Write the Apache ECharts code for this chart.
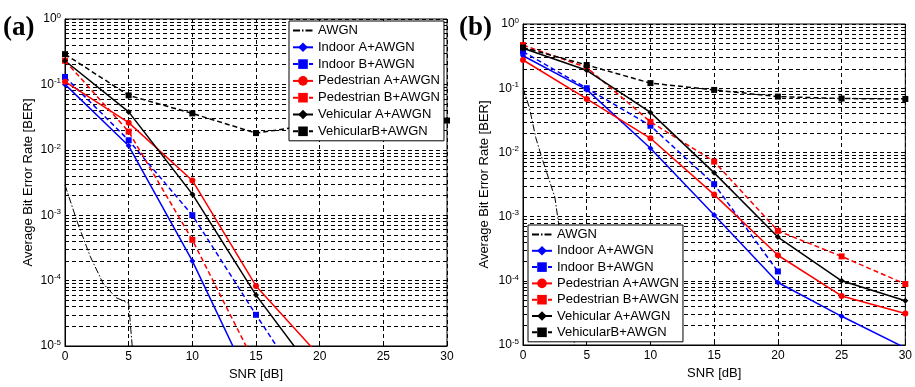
<!DOCTYPE html>
<html><head><meta charset="utf-8">
<script src="https://cdn.jsdelivr.net/npm/echarts@6/dist/echarts.min.js"></script>
<style>html,body{margin:0;padding:0;background:#fff}#c{width:915px;height:387px}</style>
</head><body><div id="c"></div>
<script>
// ---------- data ----------
const seriesNames = ['AWGN','Indoor A+AWGN','Indoor B+AWGN','Pedestrian A+AWGN','Pedestrian B+AWGN','Vehicular A+AWGN','VehicularB+AWGN'];
const snrTicks = [0,5,10,15,20,25,30];
const snrPts = [0,5,10,15,20,25,30];
const yTickExps = [0,-1,-2,-3,-4,-5];

// panel (a)
const aAwgnSnr = [0,1,2,3,4,5,5.5];
const aAwgnBer = [2.9e-3,7.5e-4,2.3e-4,9e-5,5.5e-5,4.5e-5,3e-6];
const aIndoorA = [0.10,0.0115,2.0e-4,1.8e-6];
const aIndoorB = [0.13,0.014,1.0e-3,3.0e-5,1.0e-6];
const aPedA    = [0.11,0.026,3.4e-3,8.3e-5,7e-6];
const aPedB    = [0.23,0.019,4.2e-4,5e-6];
const aVehA    = [0.23,0.038,2.1e-3,6.0e-5,3e-6];
const aVehB    = [0.29,0.068,0.036,0.018,0.025,0.027,0.028];

// panel (b)
const bAwgnSnr = [0,0.5,1,1.5,2,2.5,3,3.5,4,4.5];
const bAwgnBer = [0.1,0.05,0.017,0.008,0.004,0.002,4e-4,8e-5,1.2e-5,1e-6];
const bIndoorA = [0.32,0.095,0.0116,0.00106,9.4e-5,2.8e-5,9e-6];
const bIndoorB = [0.37,0.10,0.026,0.0032,1.4e-4];
const bPedA    = [0.275,0.068,0.0166,0.0022,2.5e-4,5.8e-5,3.1e-5];
const bPedB    = [0.47,0.21,0.030,0.0072,6.0e-4,2.4e-4,8.9e-5];
const bVehA    = [0.42,0.19,0.042,0.0048,4.8e-4,1.0e-4,4.9e-5];
const bVehB    = [0.43,0.23,0.12,0.094,0.074,0.069,0.068];

// ---------- styles ----------
const FONT = 'Liberation Sans';
const DASH = [5,3];
const styles = {
  'AWGN':              {color:'#000', type:[7,2,1.5,2], width:1, symbol:'none'},
  'Indoor A+AWGN':     {color:'#0000ff', type:'solid', width:1.5, symbol:'diamond'},
  'Indoor B+AWGN':     {color:'#0000ff', type:DASH, width:1.5, symbol:'rect'},
  'Pedestrian A+AWGN': {color:'#ff0000', type:'solid', width:1.5, symbol:'circle'},
  'Pedestrian B+AWGN': {color:'#ff0000', type:DASH, width:1.5, symbol:'rect'},
  'Vehicular A+AWGN':  {color:'#000', type:'solid', width:1.5, symbol:'diamond'},
  'VehicularB+AWGN':   {color:'#000', type:DASH, width:1.5, symbol:'rect'}
};

function pair(xs, ys){ return ys.map((v,i)=>[xs[i], v]); }

function mk(name, data, g){
  const s = styles[name];
  return {
    type:'line', name, data, xAxisIndex:g, yAxisIndex:g,
    symbol:s.symbol, symbolSize:6, showSymbol:s.symbol!=='none',
    itemStyle:{color:s.color},
    lineStyle:{color:s.color, type:s.type, width:s.width},
    z:3, clip:true, animation:false
  };
}

// decade ticks and minor log grid values (2..9 x 10^k)
const decadeVals = yTickExps.map(e=>Math.pow(10,e));
const allYVals = [];
yTickExps.forEach(e=>{
  allYVals.push(Math.pow(10,e));
  if (e > -5) for(let m=2;m<=9;m++) allYVals.push(+(m*Math.pow(10,e-1)).toPrecision(3));
});

function yLabel(v){
  const e = Math.round(Math.log10(v));
  return '{b|10}{s|' + e + '}';
}

function xAxis(g){
  return {
    type:'value', gridIndex:g, min:0, max:30, interval:5,
    name:'SNR [dB]', nameLocation:'middle', nameGap:22,
    nameTextStyle:{fontSize:13, fontFamily:FONT, color:'#000'},
    axisLine:{show:true, onZero:false, lineStyle:{color:'#000', width:1}},
    axisTick:{show:true, inside:true, length:4, lineStyle:{color:'#000'}},
    axisLabel:{color:'#000', fontSize:12, fontFamily:FONT, margin:5,
      formatter:v=> snrTicks.includes(v) ? String(v) : ''},
    splitLine:{show:true, lineStyle:{type:[4,3], color:'#000', width:1}}
  };
}
function yAxis(g, gap){
  return {
    type:'log', logBase:10, gridIndex:g, min:1e-5, max:1,
    name:'Average Bit Error Rate [BER]', nameLocation:'middle', nameGap:gap,
    nameTextStyle:{fontSize:13, fontFamily:FONT, color:'#000'},
    axisLine:{show:true, lineStyle:{color:'#000', width:1}},
    axisTick:{show:true, inside:true, length:3, customValues:allYVals, lineStyle:{color:'#000'}},
    axisLabel:{formatter:yLabel, margin:4, customValues:decadeVals,
      rich:{b:{fontSize:12, fontFamily:FONT, color:'#000'},
            s:{fontSize:8, fontFamily:FONT, color:'#000', verticalAlign:'top', padding:[0,0,7,0]}}},
    splitLine:{show:true, lineStyle:{type:[4,3], color:'#000', width:1}}
  };
}
function legend(left, top, gap){
  return {
    orient:'vertical', left, top,
    data:seriesNames.map(n => n==='AWGN' ? {name:n, itemStyle:{opacity:0}} : n),
    itemWidth:20, itemHeight:12, itemGap:gap, padding:[3,4,3,3],
    backgroundColor:'#fff', borderColor:'#000', borderWidth:1, borderRadius:0,
    textStyle:{fontSize:13, lineHeight:12, fontFamily:FONT, color:'#000'},
    selectedMode:false, z:10
  };
}

const series = [
  mk('AWGN', pair(aAwgnSnr, aAwgnBer), 0),
  mk('Indoor A+AWGN', pair(snrPts, aIndoorA), 0),
  mk('Indoor B+AWGN', pair(snrPts, aIndoorB), 0),
  mk('Pedestrian A+AWGN', pair(snrPts, aPedA), 0),
  mk('Pedestrian B+AWGN', pair(snrPts, aPedB), 0),
  mk('Vehicular A+AWGN', pair(snrPts, aVehA), 0),
  mk('VehicularB+AWGN', pair(snrPts, aVehB), 0),
  mk('AWGN', pair(bAwgnSnr, bAwgnBer), 1),
  mk('Indoor A+AWGN', pair(snrPts, bIndoorA), 1),
  mk('Indoor B+AWGN', pair(snrPts, bIndoorB), 1),
  mk('Pedestrian A+AWGN', pair(snrPts, bPedA), 1),
  mk('Pedestrian B+AWGN', pair(snrPts, bPedB), 1),
  mk('Vehicular A+AWGN', pair(snrPts, bVehA), 1),
  mk('VehicularB+AWGN', pair(snrPts, bVehB), 1)
];

const chart = echarts.init(document.getElementById('c'), null, {renderer:'canvas'});
chart.setOption({
  animation:false,
  backgroundColor:'#fff',
  title:[
    {text:'(a)', left:3, top:15, padding:0, textStyle:{fontFamily:'Liberation Serif', fontWeight:'bold', fontSize:27, color:'#000'}},
    {text:'(b)', left:459, top:15, padding:0, textStyle:{fontFamily:'Liberation Serif', fontWeight:'bold', fontSize:27, color:'#000'}}
  ],
  grid:[
    {left:65, top:19, width:382, height:327, show:true, borderColor:'#000', borderWidth:1},
    {left:523, top:24, width:384, height:321, show:true, borderColor:'#000', borderWidth:1}
  ],
  xAxis:[xAxis(0), xAxis(1)],
  yAxis:[yAxis(0,30), yAxis(1,32)],
  legend:[legend(289,21,3.8), legend(528,225,3.3)],
  series
});
</script></body></html>
